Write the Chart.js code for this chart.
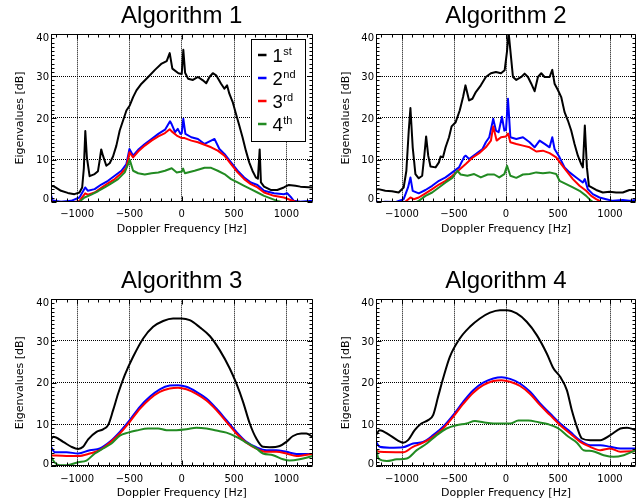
<!DOCTYPE html>
<html><head><meta charset="utf-8">
<script src="https://cdn.jsdelivr.net/npm/chart.js@4.4.1/dist/chart.umd.min.js"></script>
<style>
html,body{margin:0;padding:0;background:#fff}
body{width:639px;height:503px;position:relative;overflow:hidden}
canvas{position:absolute}
</style>
</head><body>
<canvas id="c1" width="320" height="250" style="left:0px;top:0px"></canvas>
<canvas id="c2" width="319" height="250" style="left:320px;top:0px"></canvas>
<canvas id="c3" width="320" height="253" style="left:0px;top:250px"></canvas>
<canvas id="c4" width="319" height="253" style="left:320px;top:250px"></canvas>
<script>
// ---------------- data ----------------
const titles = ['Algorithm 1', 'Algorithm 2', 'Algorithm 3', 'Algorithm 4'];
const xTitle = 'Doppler Frequency [Hz]';
const yTitle = 'Eigenvalues [dB]';
const xTicks = [-1000, -500, 0, 500, 1000];
const xTickLabels = ['\u22121000', '\u2212500', '0', '500', '1000'];
const yTicks = [0, 10, 20, 30, 40];
const yTickLabels = ['0', '10', '20', '30', '40'];
const seriesOrdinal = ['1', '2', '3', '4'];
const seriesSuffix = ['st', 'nd', 'rd', 'th'];
const xRange = [-1250, 1250];
const yRange = [0, 40];

// [frequency Hz, eigenvalue dB]
const alg1_1st = [[-1250,3.8],[-1218,3.6],[-1154,2.6],[-1090,2.1],[-1026,1.8],[-978,2.2],[-952,3.4],[-936,8],[-922,16.9],[-907,10.6],[-881,6.1],[-833,6.6],[-801,7.3],[-785,9.8],[-770,12.5],[-753,11],[-721,8.6],[-689,9.2],[-657,10.8],[-625,13.4],[-593,17],[-561,19.4],[-529,21.8],[-497,23],[-465,25],[-433,26.6],[-385,28.2],[-321,29.8],[-256,31.5],[-192,33],[-144,33.6],[-115,35.5],[-90,31.8],[-32,30.7],[0,30.5],[15,36.3],[32,30.8],[60,29.4],[107,29.1],[155,29.8],[202,29],[234,28.3],[265,29.8],[297,30.7],[329,30.2],[376,28.2],[408,27],[433,27.8],[455,25.8],[487,23.8],[518,21],[550,18.2],[581,15.4],[613,12.2],[645,9.4],[676,7.4],[708,5.8],[728,5.5],[745,12.5],[757,4.6],[787,3.6],[850,2.8],[913,2.8],[976,3.4],[1024,4.0],[1087,3.8],[1134,3.6],[1250,3.4]];
const alg1_2nd = [[-1250,1.6],[-1234,0.3],[-1154,0],[-1058,0.2],[-978,1.0],[-923,3.4],[-897,2.6],[-833,3.0],[-769,4.1],[-705,5.0],[-641,6.2],[-577,7.4],[-529,9.0],[-500,12.6],[-465,11],[-417,12.4],[-353,13.8],[-289,15],[-224,16.2],[-160,17.2],[-112,19.2],[-96,18.5],[-64,16.6],[-38,17.4],[-13,16.2],[0,16.4],[15,19.8],[35,16.2],[92,15.4],[155,15],[218,13.8],[281,14.6],[313,15],[360,12.6],[408,11.4],[471,9.4],[534,7.4],[597,5.8],[660,4.6],[724,4.0],[787,2.6],[882,2.0],[976,1.8],[1008,2.0],[1040,1.2],[1071,0.2],[1134,0],[1250,0.2]];
const alg1_3rd = [[-1250,0.1],[-1200,-0.3],[-1090,-0.5],[-978,0.2],[-923,2.0],[-897,1.7],[-833,2.2],[-769,3.3],[-705,4.4],[-641,5.4],[-577,6.8],[-529,8.2],[-500,11.8],[-465,10.6],[-417,12.0],[-353,13.4],[-289,14.6],[-224,15.6],[-160,16.4],[-115,17.3],[-96,16.8],[-48,15.8],[0,15.2],[28,15.2],[92,14.6],[155,14.2],[218,13.6],[281,13],[344,12.2],[408,11],[471,9],[534,7],[597,5.4],[660,4.2],[724,3.4],[787,2.2],[882,1.4],[976,1.0],[1040,0.4],[1087,0],[1150,-0.5],[1250,-0.5]];
const alg1_4th = [[-1250,-1],[-1000,-0.5],[-978,0],[-930,1.0],[-865,1.7],[-801,2.5],[-737,3.4],[-673,4.4],[-609,5.4],[-545,7.0],[-513,9.0],[-497,10],[-465,7.4],[-417,6.8],[-353,6.5],[-289,6.8],[-224,7.0],[-160,7.4],[-96,8.0],[-48,7.0],[0,7.2],[13,7.9],[30,6.8],[123,7.4],[218,8.1],[281,8.1],[344,7.4],[408,6.6],[471,5.4],[534,4.6],[597,3.8],[660,3.0],[724,2.2],[787,1.4],[850,0.8],[913,0.2],[945,0],[1000,-0.8],[1250,-1]];

const alg2_1st = [[-1250,2.9],[-1226,3.0],[-1161,2.6],[-1097,2.5],[-1032,2.2],[-984,3.4],[-958,7.4],[-935,17],[-919,22.4],[-897,13],[-871,6.6],[-839,5.6],[-806,6.2],[-784,11.4],[-768,15.6],[-748,11],[-726,8.4],[-677,8.2],[-645,9.4],[-629,10.8],[-606,10.6],[-581,13],[-548,15.4],[-523,18],[-484,19],[-445,21.8],[-413,25],[-390,27.8],[-355,24.2],[-323,24.6],[-290,26.2],[-242,27.8],[-194,29.8],[-145,30.7],[-97,31],[-48,30.7],[-13,31.4],[10,36],[25,40.5],[48,34.6],[67,29.8],[99,29.1],[147,29.8],[179,30.6],[211,29.8],[243,28.2],[275,26.4],[307,29.8],[339,30.7],[371,29.8],[419,29.8],[445,31.5],[467,28.2],[499,26.7],[531,25],[563,21.4],[595,19.4],[627,17],[659,13.8],[691,11],[723,9],[739,8.2],[758,18.2],[778,8.2],[797,3.8],[867,2.8],[931,2.2],[995,2.4],[1059,2.2],[1123,2.2],[1187,2.8],[1250,2.8]];
const alg2_2nd = [[-1250,0.2],[-1226,-0.2],[-1161,0],[-1065,-0.1],[-984,0.6],[-942,3.4],[-919,5.8],[-897,2.6],[-839,2.0],[-774,2.8],[-710,3.8],[-645,5.0],[-581,5.8],[-516,7.0],[-452,8.2],[-400,10.8],[-387,11],[-355,10.2],[-290,11.4],[-226,12.6],[-194,14.2],[-161,15.4],[-123,19.8],[-97,17],[-71,16.6],[-39,20.3],[-16,17],[0,17.2],[19,24.6],[42,15.4],[99,15],[163,15.4],[227,14.2],[275,13],[323,14.6],[371,13.8],[419,13],[445,15.4],[467,12.6],[515,10.6],[563,8.2],[611,7.0],[675,5.8],[739,4.6],[758,5.4],[787,3.0],[835,1.8],[899,1.0],[963,0.6],[1027,0.2],[1123,0.4],[1187,0.2],[1250,0.4]];
const alg2_3rd = [[-1250,-1],[-1000,-0.5],[-968,0],[-919,1.0],[-887,0.6],[-839,1.0],[-774,2.0],[-710,3.0],[-645,4.1],[-581,5.0],[-516,6.2],[-452,7.6],[-387,9.0],[-323,10.5],[-258,11.6],[-194,13],[-145,14.6],[-123,18],[-90,14.6],[-48,15.4],[0,15.6],[20,16.3],[42,14.2],[99,13.8],[163,13.4],[227,13],[291,12.0],[355,12.2],[419,11.6],[483,10.6],[531,9.0],[579,7.4],[643,5.4],[707,3.8],[771,2.6],[819,1.4],[867,0.6],[915,0],[960,-0.5],[1250,-1]];
const alg2_4th = [[-1250,-1],[-900,-0.5],[-839,0.2],[-774,1.4],[-710,2.2],[-645,3.4],[-581,4.6],[-516,5.7],[-468,7.4],[-436,6.5],[-371,6.2],[-306,6.6],[-242,5.8],[-177,6.5],[-113,6.5],[-65,5.8],[-16,6.6],[10,8.6],[42,6.2],[99,5.7],[163,6.5],[227,6.6],[291,7.0],[355,6.8],[419,7.0],[483,6.6],[515,5.0],[579,4.2],[643,3.4],[707,2.6],[771,1.4],[819,0.2],[851,-0.3],[1250,-1]];

const alg3_1st = [[-1250,6.4],[-1229,7.0],[-1134,5.8],[-1054,4.6],[-990,4.1],[-943,4.6],[-895,6.4],[-815,8.2],[-752,8.8],[-704,9.8],[-656,13.4],[-608,17.4],[-545,21.8],[-465,26.2],[-369,30.6],[-274,33.4],[-178,34.8],[-83,35.4],[-3,35.4],[76,35],[172,33.3],[268,31.2],[363,27.8],[459,23.4],[522,19.8],[586,15.4],[650,10.2],[713,6.6],[777,4.6],[841,4.5],[936,4.8],[1000,5.8],[1064,7.2],[1143,7.8],[1191,7.8],[1250,7.0]];
const alg3_2nd = [[-1250,4.6],[-1213,3.3],[-1102,3.3],[-990,3.0],[-879,3.8],[-783,4.2],[-688,5.8],[-592,8.2],[-497,11],[-401,14.2],[-306,16.6],[-210,18.4],[-115,19.3],[-35,19.4],[45,19],[140,17.8],[236,16.2],[331,13.8],[427,11],[522,8.2],[618,5.8],[713,4.5],[809,3.8],[904,3.8],[1000,3.4],[1096,2.9],[1250,2.9]];
const alg3_3rd = [[-1250,2.6],[-1102,2.4],[-990,2.4],[-879,3.0],[-783,3.8],[-688,5.6],[-592,7.8],[-497,10.6],[-401,13.7],[-306,16.1],[-210,17.8],[-115,18.6],[-35,18.8],[45,18.4],[140,17.3],[236,15.7],[331,13.4],[427,10.6],[522,7.8],[618,5.6],[713,4.2],[809,3.4],[904,3.4],[1000,3.0],[1096,2.4],[1250,2.9]];
const alg3_4th = [[-1250,2.2],[-1213,0.8],[-1166,0.2],[-1102,0.2],[-990,0.9],[-911,1.3],[-831,3.0],[-752,4.2],[-672,5.4],[-592,7.3],[-513,8.0],[-433,8.5],[-322,9.0],[-226,9.0],[-146,8.6],[-51,8.6],[45,8.8],[140,9.2],[236,9.0],[331,8.5],[427,8.0],[522,7.0],[618,5.6],[713,4.2],[777,3.0],[873,2.6],[968,1.6],[1032,1.3],[1127,1.6],[1250,2.4]];

const alg4_1st = [[-1250,7.4],[-1215,8.6],[-1119,7.4],[-1039,6.1],[-990,5.6],[-942,6.2],[-878,8.6],[-814,10.2],[-749,11],[-701,12.2],[-653,16.6],[-605,21],[-540,26.2],[-444,30.6],[-347,33.4],[-251,35.4],[-154,36.8],[-58,37.4],[6,37.4],[103,36.6],[199,34.6],[296,31.4],[392,27],[457,23.4],[521,21.4],[585,18.2],[633,13.4],[682,9.4],[730,6.6],[810,6.2],[907,6.2],[1003,7.4],[1100,9.0],[1164,9.2],[1250,8.6]];
const alg4_2nd = [[-1250,5.8],[-1215,4.6],[-1119,4.4],[-990,4.5],[-894,5.4],[-797,5.8],[-701,7.4],[-605,9.4],[-508,12.2],[-412,15.4],[-315,18.2],[-219,20],[-122,21],[-42,21.3],[39,20.9],[135,19.8],[232,17.8],[328,15],[424,12.6],[521,10.2],[617,8.2],[714,6.1],[810,5.0],[907,5.0],[1003,4.6],[1100,4.2],[1250,4.2]];
const alg4_3rd = [[-1250,3.8],[-1215,3.4],[-990,3.3],[-894,4.6],[-797,5.6],[-701,7.0],[-605,9.0],[-508,11.8],[-412,14.9],[-315,17.6],[-219,19.4],[-122,20.4],[-42,20.6],[39,20.2],[135,19.2],[232,17.3],[328,14.6],[424,12.2],[521,9.8],[617,7.8],[714,5.8],[810,4.6],[907,3.8],[1003,4.2],[1100,3.4],[1250,3.6]];
const alg4_4th = [[-1250,4.2],[-1225,1.8],[-1146,1.2],[-1050,1.6],[-954,1.8],[-858,3.8],[-762,5.4],[-666,7.4],[-572,9.0],[-476,9.8],[-379,10.2],[-299,10.8],[-219,10.5],[-122,10.2],[-42,10.2],[39,10.2],[119,10.9],[215,10.9],[312,10.5],[408,10],[505,9.0],[601,7.0],[682,5.6],[746,3.8],[826,3.6],[939,2.6],[1035,2.2],[1132,2.6],[1250,3.8]];

// ---------------- styles / layout ----------------
const colors = ['#000000', '#0000ff', '#ff0000', '#228b22'];
const smallFont = "'DejaVu Sans'";
const bigFont = "'Liberation Sans', Arial, Helvetica, sans-serif";

const panels = [
  {id: 'c1', title: titles[0], series: [alg1_1st, alg1_2nd, alg1_3rd, alg1_4th], smooth: false, legend: true,
   yW: 51, padR: 7.5, padT: 0, xH: 48.3, tickPad: 7, xTitlePadB: 14.7, yTitlePad: 14},
  {id: 'c2', title: titles[1], series: [alg2_1st, alg2_2nd, alg2_3rd, alg2_4th], smooth: false, legend: false,
   yW: 56, padR: 3, padT: 0, xH: 48.3, tickPad: 7, xTitlePadB: 14.7, yTitlePad: 19.4},
  {id: 'c3', title: titles[2], series: [alg3_1st, alg3_2nd, alg3_3rd, alg3_4th], smooth: true, legend: false,
   yW: 51, padR: 7.5, padT: 15, xH: 37, tickPad: 7, xTitlePadB: 3.4, yTitlePad: 14},
  {id: 'c4', title: titles[3], series: [alg4_1st, alg4_2nd, alg4_3rd, alg4_4th], smooth: true, legend: false,
   yW: 56, padR: 3, padT: 15, xH: 37, tickPad: 7, xTitlePadB: 3.4, yTitlePad: 19.4}
];

// IDL-style frame: box on four sides, inward major/minor ticks, y labels kept inside the box
const framePlugin = {
  id: 'idlFrame',
  afterDatasetsDraw(chart) {
    const {ctx, chartArea: a, scales: {x, y}} = chart;
    const L = Math.round(a.left) + 0.5, R = Math.round(a.right) - 0.5;
    const T = Math.round(a.top) + 0.5, B = Math.round(a.bottom) - 0.5;
    ctx.save();
    ctx.strokeStyle = '#000';
    ctx.lineWidth = 1;
    ctx.beginPath();
    ctx.rect(L, T, R - L, B - T);
    const xMinor = 100, yMinor = 1;
    for (let f = Math.ceil(xRange[0] / xMinor) * xMinor; f <= xRange[1]; f += xMinor) {
      const px = Math.round(x.getPixelForValue(f)) + 0.5;
      const len = xTicks.includes(f) ? 5 : 3;
      ctx.moveTo(px, B); ctx.lineTo(px, B - len);
      ctx.moveTo(px, T); ctx.lineTo(px, T + len);
    }
    for (let v = yRange[0]; v <= yRange[1]; v += yMinor) {
      const py = Math.round(y.getPixelForValue(v)) + 0.5;
      const len = yTicks.includes(v) ? 5 : 3;
      ctx.moveTo(L, py); ctx.lineTo(L + len, py);
      ctx.moveTo(R, py); ctx.lineTo(R - len, py);
    }
    ctx.stroke();
    // y tick labels
    ctx.fillStyle = '#000';
    ctx.font = '10px ' + smallFont;
    ctx.textAlign = 'right';
    ctx.textBaseline = 'alphabetic';
    yTicks.forEach((v, i) => {
      let cy = y.getPixelForValue(v);
      cy = Math.min(Math.max(cy, a.top + 3.4), a.bottom - 3);
      ctx.fillText(yTickLabels[i], a.left - 2, cy + 3.6);
    });
    ctx.restore();
  }
};

const legendPlugin = {
  id: 'idlLegend',
  afterDraw(chart, args, opts) {
    if (!opts.show) return;
    const {ctx, chartArea: a} = chart;
    const bx = Math.round(a.right - 62) + 0.5, by = Math.round(a.top + 5) + 0.5;
    const bw = 54, bh = 102;
    ctx.save();
    ctx.fillStyle = '#fff';
    ctx.fillRect(bx, by, bw, bh);
    ctx.strokeStyle = '#000';
    ctx.lineWidth = 1;
    ctx.strokeRect(bx, by, bw, bh);
    chart.data.datasets.forEach((ds, i) => {
      const ly = by + 15.5 + i * 23;
      ctx.strokeStyle = ds.borderColor;
      ctx.lineWidth = 2.5;
      ctx.beginPath();
      ctx.moveTo(bx + 6.5, ly); ctx.lineTo(bx + 15, ly);
      ctx.stroke();
      const base = by + 22.2 + i * 23;
      ctx.fillStyle = '#000';
      ctx.textAlign = 'left';
      ctx.textBaseline = 'alphabetic';
      ctx.font = '18.5px ' + bigFont;
      ctx.fillText(seriesOrdinal[i], bx + 21, base);
      const w = ctx.measureText(seriesOrdinal[i]).width;
      ctx.font = '11px ' + bigFont;
      ctx.fillText(seriesSuffix[i], bx + 21 + w + 0.5, base - 7);
    });
    ctx.restore();
  }
};

Chart.defaults.color = '#000';

panels.forEach(p => {
  new Chart(document.getElementById(p.id), {
    type: 'line',
    data: {
      datasets: p.series.map((s, i) => ({
        label: seriesOrdinal[i] + seriesSuffix[i],
        data: s.map(([f, v]) => ({x: f, y: v})),
        borderColor: colors[i],
        borderWidth: 2,
        pointRadius: 0,
        pointHoverRadius: 0,
        fill: false,
        tension: 0,
        cubicInterpolationMode: p.smooth ? 'monotone' : 'default',
        borderJoinStyle: 'round',
        clip: 0,
        order: 4 - i
      }))
    },
    options: {
      responsive: false,
      animation: false,
      devicePixelRatio: 1,
      events: [],
      layout: {autoPadding: false, padding: {left: 0, right: p.padR, top: p.padT, bottom: 0}},
      plugins: {
        legend: {display: false},
        tooltip: {enabled: false},
        title: {
          display: true, text: p.title, fullSize: false, color: '#000',
          font: {family: bigFont, size: 24, weight: 'normal', lineHeight: 1.2},
          padding: {top: 2.3, bottom: 3.2}
        },
        idlLegend: {show: p.legend}
      },
      scales: {
        x: {
          type: 'linear', min: xRange[0], max: xRange[1],
          afterBuildTicks(s) { s.ticks = xTicks.map(v => ({value: v})); },
          afterFit(s) { s.height = p.xH; },
          grid: {color: '#000', lineWidth: 1, drawTicks: false},
          border: {display: false, dash: [1, 1]},
          ticks: {
            font: {family: smallFont, size: 10}, color: '#000', padding: p.tickPad,
            maxRotation: 0, autoSkip: false,
            callback: v => xTickLabels[xTicks.indexOf(v)]
          },
          title: {display: true, text: xTitle, color: '#000',
                  font: {family: smallFont, size: 11}, padding: {top: 0, bottom: p.xTitlePadB}}
        },
        y: {
          type: 'linear', min: yRange[0], max: yRange[1],
          afterBuildTicks(s) { s.ticks = yTicks.map(v => ({value: v})); },
          afterFit(s) { s.width = p.yW; },
          grid: {color: '#000', lineWidth: 1, drawTicks: false},
          border: {display: false, dash: [1, 1]},
          ticks: {display: false},
          title: {display: true, text: yTitle, color: '#000',
                  font: {family: smallFont, size: 11}, padding: {top: p.yTitlePad, bottom: 0}}
        }
      }
    },
    plugins: [framePlugin, legendPlugin]
  });
});
</script>
</body></html>
